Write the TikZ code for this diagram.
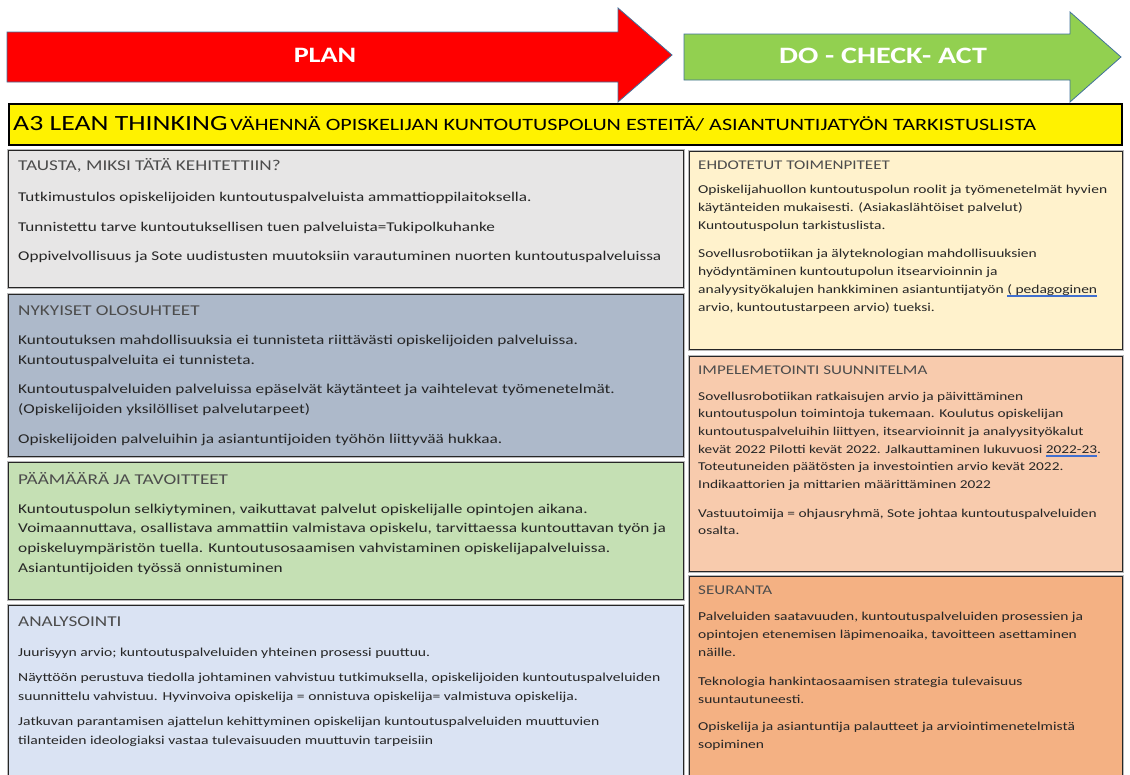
\documentclass[tikz,border=0pt]{standalone}
\usepackage{fontspec}
\setmainfont{Carlito}[FakeStretch=1.28]
\usepackage{tikz}
\definecolor{arrowblue}{HTML}{41719C}
\definecolor{actgreen}{HTML}{92D050}
\definecolor{graybox}{HTML}{E7E6E6}
\definecolor{slatebox}{HTML}{ADB9CA}
\definecolor{greenbox}{HTML}{C5E0B4}
\definecolor{bluebox}{HTML}{DAE3F3}
\definecolor{creambox}{HTML}{FFF2CC}
\definecolor{peachbox}{HTML}{F8CBAD}
\definecolor{orangebox}{HTML}{F4B183}
\definecolor{spellblue}{HTML}{3F6FD0}
\newsavebox\ulbox
\newcommand{\spellul}[1]{\sbox\ulbox{#1}\rlap{\color{spellblue}\rule[-2.2pt]{\wd\ulbox}{0.6pt}}\rlap{\color{spellblue}\rule[-3.8pt]{\wd\ulbox}{0.6pt}}\usebox\ulbox}

\begin{document}
\begin{tikzpicture}[x=1pt,y=-1pt]
\tikzstyle{bigarrow}=[draw=arrowblue,line width=0.8pt]
\tikzstyle{arrowtext}=[text=white,font=\fontsize{22}{24}\selectfont\bfseries]
\tikzstyle{panel}=[draw=black!85,line width=1.3pt,preaction={draw=gray!55,line width=3.6pt},anchor=north west,inner sep=0pt]
\tikzstyle{head}=[anchor=base west,inner sep=0pt,text=black!70,font=\fontsize{15}{17}\selectfont]
\tikzstyle{rhead}=[anchor=base west,inner sep=0pt,text=black!70,font=\fontsize{13.3}{16}\selectfont]
\tikzstyle{body}=[anchor=north west,inner sep=0pt,align=left,text=black!85,font=\fontsize{13.4}{19}\selectfont]
\tikzstyle{rbody}=[anchor=north west,inner sep=0pt,align=left,text=black!85,font=\fontsize{12.1}{18}\selectfont]
\useasboundingbox (0,0) rectangle (1130,774);
\draw[bigarrow,fill=red] (7,32) -- (618,32) -- (618,8) -- (672,55) -- (618,102) -- (618,82) -- (7,82) -- cycle;
\draw[bigarrow,fill=actgreen] (684,34) -- (1070,34) -- (1070,12) -- (1121,57) -- (1070,102) -- (1070,80) -- (684,80) -- cycle;
\node[arrowtext] (plan) at (325,55) {PLAN};
\node[arrowtext,font=\fontsize{23.5}{26}\selectfont\bfseries] (dca) at (883,56) {DO - CHECK- ACT};
\node[draw=black,line width=1.5pt,fill=yellow,anchor=north west,minimum width=1113pt,minimum height=41pt] (a3) at (8,103) {};
\node[anchor=base west,inner sep=0pt] (a3text) at (13,130.5) {{\fontsize{21.7}{24}\selectfont A3 LEAN THINKING} {\fontsize{17.3}{19}\selectfont VÄHENNÄ OPISKELIJAN KUNTOUTUSPOLUN ESTEITÄ/ ASIANTUNTIJATYÖN TARKISTUSLISTA}};
\node[panel,fill=graybox,minimum width=675pt,minimum height=137pt] (tausta) at (8,150) {};
\node[panel,fill=slatebox,minimum width=675pt,minimum height=162pt] (nykyiset) at (8,294) {};
\node[panel,fill=greenbox,minimum width=675pt,minimum height=137pt] (paamaara) at (8,462) {};
\node[panel,fill=bluebox,minimum width=675pt,minimum height=190pt] (analyysi) at (8,605) {};
\node[panel,fill=creambox,minimum width=433pt,minimum height=198pt] (ehdotus) at (689,151) {};
\node[panel,fill=peachbox,minimum width=433pt,minimum height=215pt] (toteutus) at (689,356) {};
\node[panel,fill=orangebox,minimum width=433pt,minimum height=210pt] (seuranta) at (689,576) {};
\node[head] (taustah) at (18,170.5) {TAUSTA, MIKSI TÄTÄ KEHITETTIIN?};
\node[body] (taustab) at (18,192) {Tutkimustulos opiskelijoiden kuntoutuspalveluista ammattioppilaitoksella.\\[10.5pt]
Tunnistettu tarve kuntoutuksellisen tuen palveluista=Tukipolkuhanke\\[10.5pt]
Oppivelvollisuus ja Sote uudistusten muutoksiin varautuminen nuorten kuntoutuspalveluissa};
\node[head] (nykyisetH) at (18,315.5) {NYKYISET OLOSUHTEET};
\node[body,font=\fontsize{13.5}{20}\selectfont] (nykyisetB) at (18,334.5) {Kuntoutuksen mahdollisuuksia ei tunnisteta riittävästi opiskelijoiden palveluissa.\\
Kuntoutuspalveluita ei tunnisteta.\\[9.5pt]
Kuntoutuspalveluiden palveluissa epäselvät käytänteet ja vaihtelevat työmenetelmät.\\
(Opiskelijoiden yksilölliset palvelutarpeet)\\[9.5pt]
Opiskelijoiden palveluihin ja asiantuntijoiden työhön liittyvää hukkaa.};
\node[head] (paamaaraH) at (18,484.5) {PÄÄMÄÄRÄ JA TAVOITTEET};
\node[body,font=\fontsize{13.5}{19.7}\selectfont] (paamaaraB) at (18,503.5) {Kuntoutuspolun selkiytyminen, vaikuttavat palvelut opiskelijalle opintojen aikana.\\
Voimaannuttava, osallistava ammattiin valmistava opiskelu, tarvittaessa kuntouttavan työn ja\\
opiskeluympäristön tuella. Kuntoutusosaamisen vahvistaminen opiskelijapalveluissa.\\
Asiantuntijoiden työssä onnistuminen};
\node[head] (analyysiH) at (18,626.5) {ANALYSOINTI};
\node[body,font=\fontsize{12.2}{19}\selectfont] (analyysiB) at (18,647.5) {Juurisyyn arvio; kuntoutuspalveluiden yhteinen prosessi puuttuu.\\[6pt]
Näyttöön perustuva tiedolla johtaminen vahvistuu tutkimuksella, opiskelijoiden kuntoutuspalveluiden\\
suunnittelu vahvistuu. Hyvinvoiva opiskelija = onnistuva opiskelija= valmistuva opiskelija.\\[6pt]
Jatkuvan parantamisen ajattelun kehittyminen opiskelijan kuntoutuspalveluiden muuttuvien\\
tilanteiden ideologiaksi vastaa tulevaisuuden muuttuvin tarpeisiin};
\node[rhead] (ehdotusH) at (698,169) {EHDOTETUT TOIMENPITEET};
\node[rbody] (ehdotusB) at (698,184.5) {Opiskelijahuollon kuntoutuspolun roolit ja työmenetelmät hyvien\\
käytänteiden mukaisesti. (Asiakaslähtöiset palvelut)\\
Kuntoutuspolun tarkistuslista.\\[10pt]
Sovellusrobotiikan ja älyteknologian mahdollisuuksien\\
hyödyntäminen kuntoutupolun itsearvioinnin ja\\
analyysityökalujen hankkiminen asiantuntijatyön \spellul{( pedagoginen}\\
arvio, kuntoutustarpeen arvio) tueksi.};
\node[rhead] (toteutusH) at (698,374) {IMPELEMETOINTI SUUNNITELMA};
\node[rbody,font=\fontsize{12}{17.7}\selectfont] (toteutusB) at (698,391.5) {Sovellusrobotiikan ratkaisujen arvio ja päivittäminen\\
kuntoutuspolun toimintoja tukemaan. Koulutus opiskelijan\\
kuntoutuspalveluihin liittyen, itsearvioinnit ja analyysityökalut\\
kevät 2022 Pilotti kevät 2022. Jalkauttaminen lukuvuosi \spellul{2022-23}.\\
Toteutuneiden päätösten ja investointien arvio kevät 2022.\\
Indikaattorien ja mittarien määrittäminen 2022\\[11pt]
Vastuutoimija = ohjausryhmä, Sote johtaa kuntoutuspalveluiden\\
osalta.};
\node[rhead] (seurantaH) at (698,594) {SEURANTA};
\node[rbody] (seurantaB) at (698,611.5) {Palveluiden saatavuuden, kuntoutuspalveluiden prosessien ja\\
opintojen etenemisen läpimenoaika, tavoitteen asettaminen\\
näille.\\[11pt]
Teknologia hankintaosaamisen strategia tulevaisuus\\
suuntautuneesti.\\[9pt]
Opiskelija ja asiantuntija palautteet ja arviointimenetelmistä\\
sopiminen};
\end{tikzpicture}
\end{document}
